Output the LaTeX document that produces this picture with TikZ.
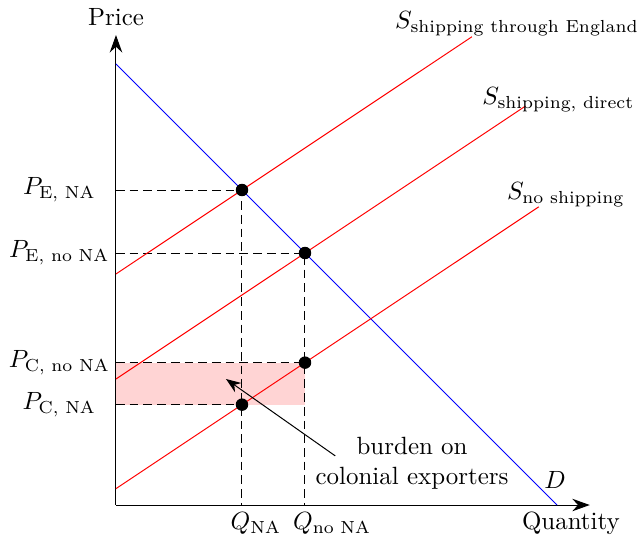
\documentclass[tikz,border=0pt]{standalone}
\usepackage{amsmath}
\usetikzlibrary{arrows.meta,positioning}

\begin{document}
\begin{tikzpicture}[x=0.888cm,y=0.888cm,
    guide/.style={dash pattern=on 3.5pt off 2pt},
    supply/.style={red},
    eqdot/.style={circle,inner sep=0pt,minimum size=5.2pt}]
    \useasboundingbox (-1.841,-0.508) rectangle (8.349,8.016);
    % Burden area
    \fill[red!17] (0,1.593) rectangle (3,2.26);
    % Axes
    \coordinate (O) at (0,0);
    \coordinate (ytop) at (0,7.46);
    \coordinate (xend) at (7.52,0);
    \draw[-{Stealth[length=7pt,width=5pt]}] (O) -- (ytop) node[above] (price) {Price};
    \draw[-{Stealth[length=7pt,width=5pt]}] (O) -- (xend);
    \node (qty) at (7.22,-0.29) {Quantity};
    % Equilibrium points
    \node[eqdot] (eNA) at (2,5) {};
    \node[eqdot] (enoNA) at (3,4) {};
    \node[eqdot] (cnoNA) at (3,2.26) {};
    \node[eqdot] (cNA) at (2,1.593) {};
    % Guides
    \draw[guide] (eNA.center -| O) -- (eNA.center) -- (eNA.center |- O);
    \draw[guide] (enoNA.center -| O) -- (enoNA.center) -- (enoNA.center |- O);
    \draw[guide] (cnoNA.center -| O) -- (cnoNA.center);
    \draw[guide] (cNA.center -| O) -- (cNA.center);
    % Demand
    \draw[blue] (0,7) -- (7,0);
    \node (dlab) at (6.97,0.40) {$D$};
    % Supply curves
    \draw[supply] (0,0.26) -- (6.71,4.733);
    \draw[supply] (0,2) -- (6.5,6.333);
    \draw[supply] (0,3.667) -- (5.65,7.433);
    \node (snone) at (7.14,4.92) {$S_{\text{no shipping}}$};
    \node (sdirect) at (7.02,6.43) {$S_{\text{shipping, direct}}$};
    \node (seng) at (6.365,7.635) {$S_{\text{shipping through England}}$};
    % Dots on top
    \foreach \p in {eNA,enoNA,cnoNA,cNA}
        \fill (\p) circle (2.5pt);
    % Price labels
    \node (pENA) at (-0.9,5) {$P_{\text{E, NA}}$};
    \node (pEnoNA) at (-0.9,4) {$P_{\text{E, no NA}}$};
    \node (pCnoNA) at (-0.9,2.26) {$P_{\text{C, no NA}}$};
    \node (pCNA) at (-0.9,1.593) {$P_{\text{C, NA}}$};
    % Quantity labels
    \node (qNA) at (2.22,-0.29) {$Q_{\text{NA}}$};
    \node (qnoNA) at (3.43,-0.29) {$Q_{\text{no NA}}$};
    % Burden
    \node[align=center] (burden) at (4.70,0.67) {burden on\\colonial exporters};
    \coordinate (tail) at (3.48,0.78);
    \coordinate (shade) at (1.746,2.0);
    \draw[-{Stealth[length=6pt,width=4.5pt]}] (tail) -- (shade);
\end{tikzpicture}
\end{document}
